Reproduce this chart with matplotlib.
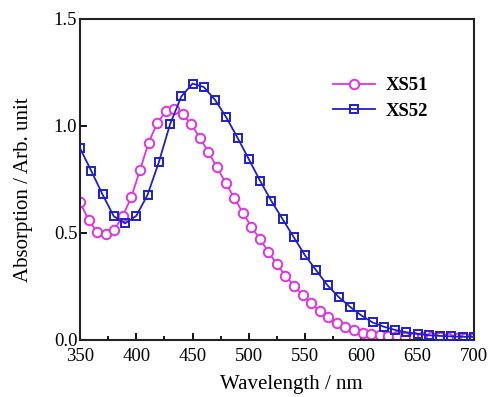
import numpy as np
import matplotlib.pyplot as plt
from matplotlib.ticker import MultipleLocator

# XS51 (circles)
wl51 = [350.0, 357.6, 365.2, 372.8, 380.4, 388.0, 395.7, 403.3, 410.9, 418.5,
        426.1, 433.7, 441.3, 448.9, 456.5, 464.1, 471.7, 479.3, 487.0, 494.6,
        502.2, 509.8, 517.4, 525.0, 532.6, 540.2, 547.8, 555.4, 563.0, 570.7,
        578.3, 585.9, 593.5, 601.1, 608.7, 616.3, 623.9, 631.5, 639.1, 646.7,
        654.3, 662.0, 669.6, 677.2, 684.8, 692.4, 700.0]
abs51 = [0.643, 0.561, 0.503, 0.494, 0.514, 0.579, 0.670, 0.794, 0.922, 1.012,
         1.068, 1.080, 1.054, 1.007, 0.945, 0.878, 0.807, 0.735, 0.665, 0.595,
         0.530, 0.472, 0.412, 0.354, 0.300, 0.252, 0.210, 0.171, 0.136, 0.106,
         0.081, 0.062, 0.046, 0.035, 0.027, 0.022, 0.019, 0.017, 0.015, 0.014,
         0.013, 0.012, 0.012, 0.011, 0.011, 0.011, 0.011]

# XS52 (squares)
wl52 = [350, 360, 370, 380, 390, 400, 410, 420, 430, 440, 450, 460, 470, 480,
        490, 500, 510, 520, 530, 540, 550, 560, 570, 580, 590, 600, 610, 620,
        630, 640, 650, 660, 670, 680, 690, 700]
abs52 = [0.896, 0.790, 0.680, 0.578, 0.545, 0.580, 0.678, 0.830, 1.008, 1.138,
         1.198, 1.182, 1.122, 1.040, 0.945, 0.845, 0.744, 0.650, 0.565, 0.480,
         0.395, 0.325, 0.255, 0.200, 0.155, 0.115, 0.082, 0.062, 0.047, 0.036,
         0.028, 0.022, 0.019, 0.017, 0.015, 0.014]

plt.rcParams['font.family'] = ['Liberation Serif', 'DejaVu Serif']

fig = plt.figure(figsize=(4.91, 3.97), dpi=100)
ax = fig.add_axes([0.163, 0.1436, 0.802, 0.8086])

ax.plot(wl51, abs51, color="#e033e0", lw=1.3, marker="o", ms=6.8,
        mfc="white", mec="#e033e0", mew=1.4, label="XS51", zorder=2)
ax.plot(wl52, abs52, color="#1f1fcc", lw=1.3, marker="s", ms=5.8,
        mfc="none", mec="#1f1fcc", mew=1.4, label="XS52", zorder=3)

ax.set_xlim(350, 700)
ax.set_ylim(0, 1.5)
ax.xaxis.set_major_locator(MultipleLocator(50))
ax.xaxis.set_minor_locator(MultipleLocator(25))
ax.yaxis.set_major_locator(MultipleLocator(0.5))
ax.yaxis.set_major_formatter(plt.FuncFormatter(lambda v, p: "%.1f" % v))

ax.tick_params(which="both", direction="in", top=False, right=False,
               labelsize=13.5, width=1.3)
ax.tick_params(axis="x", pad=6)
ax.tick_params(axis="y", pad=2)
ax.tick_params(which="major", length=5)
ax.tick_params(which="minor", length=3)
for s in ax.spines.values():
    s.set_linewidth(1.5)
    s.set_color("#222222")

ax.set_xlabel("Wavelength / nm", fontsize=15, labelpad=7)
ax.set_ylabel("Absorption / Arb. unit", fontsize=15, labelpad=15)
ax.xaxis.label.set_x(0.537)
ax.yaxis.label.set_y(0.467)

leg = ax.legend(loc="upper left", bbox_to_anchor=(0.61, 0.86), frameon=False,
                prop={"weight": "bold", "size": 13.5}, handlelength=2.2,
                handletextpad=0.6, labelspacing=0.45, borderpad=0.2)

fig.savefig("out.png", dpi=100)
